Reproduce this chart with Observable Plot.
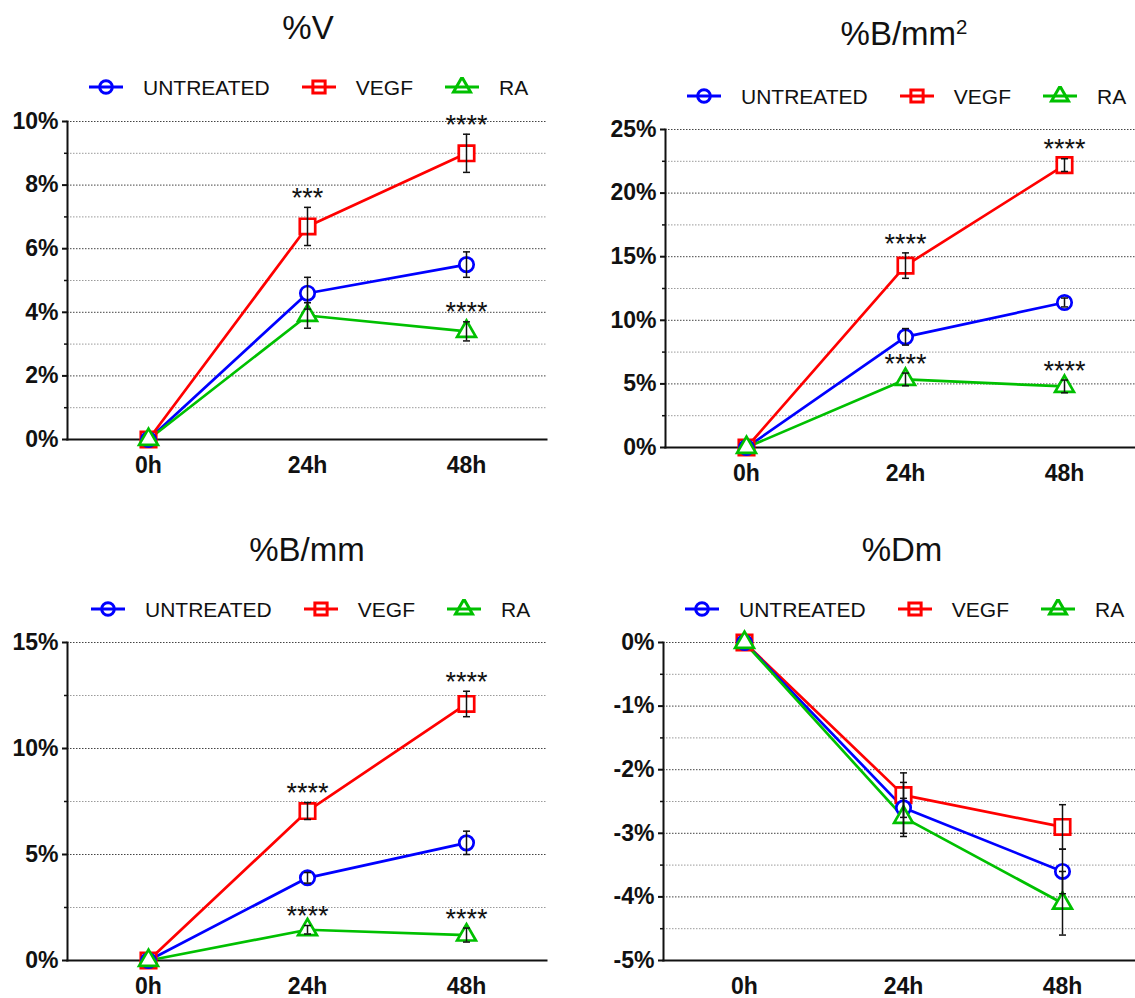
<!DOCTYPE html>
<html><head><meta charset="utf-8">
<script src="https://cdn.jsdelivr.net/npm/d3@7"></script>
<script src="https://cdn.jsdelivr.net/npm/@observablehq/plot@0.6"></script>
<style>
body{margin:0;background:#fff;}
#root{position:relative;width:1135px;height:998px;overflow:hidden;background:#fff;font-family:"Liberation Sans",Arial,sans-serif;color:#111;}
.title{position:absolute;font-size:33px;line-height:33px;white-space:nowrap;transform:translateX(-50%);}
.title sup{font-size:0.62em;line-height:0;position:relative;top:-0.55em;vertical-align:baseline;}
.legend{position:absolute;display:flex;align-items:center;height:21px;font-size:21px;line-height:21px;white-space:nowrap;}
.legend svg{margin-right:20px;display:block;}
.legend span{margin-right:32px;}
.panel{position:absolute;}
</style></head>
<body><div id="root"></div>
<script>
// ---------- data ----------
const times = ["0h", "24h", "48h"];
const groups = ["UNTREATED", "VEGF", "RA"];

// %V
const vUntreated = [0, 4.6, 5.5];
const vUntreatedSem = [0, 0.5, 0.4];
const vVegf = [0, 6.7, 9.0];
const vVegfSem = [0, 0.6, 0.6];
const vRa = [0, 3.9, 3.4];
const vRaSem = [0, 0.4, 0.3];
const vVegfSig = ["", "***", "****"];
const vRaSig = ["", "", "****"];
const vTicks = [0, 2, 4, 6, 8, 10];
const vMinor = [1, 3, 5, 7, 9];

// %B/mm2
const bUntreated = [0, 8.7, 11.4];
const bUntreatedSem = [0, 0.65, 0.35];
const bVegf = [0, 14.3, 22.2];
const bVegfSem = [0, 1.0, 0.5];
const bRa = [0, 5.35, 4.8];
const bRaSem = [0, 0.5, 0.5];
const bVegfSig = ["", "****", "****"];
const bRaSig = ["", "****", "****"];
const bTicks = [0, 5, 10, 15, 20, 25];
const bMinor = [2.5, 7.5, 12.5, 17.5, 22.5];

// %B/mm
const lUntreated = [0, 3.9, 5.55];
const lUntreatedSem = [0, 0.25, 0.55];
const lVegf = [0, 7.05, 12.1];
const lVegfSem = [0, 0.4, 0.6];
const lRa = [0, 1.45, 1.2];
const lRaSem = [0, 0.2, 0.33];
const lVegfSig = ["", "****", "****"];
const lRaSig = ["", "****", "****"];
const lTicks = [0, 5, 10, 15];
const lMinor = [2.5, 7.5, 12.5];

// %Dm
const dUntreated = [0, -2.6, -3.6];
const dUntreatedSem = [0, 0.4, 0.35];
const dVegf = [0, -2.4, -2.9];
const dVegfSem = [0, 0.35, 0.35];
const dRa = [0, -2.75, -4.1];
const dRaSem = [0, 0.3, 0.5];
const dTicks = [0, -1, -2, -3, -4, -5];
const dMinor = [-0.5, -1.5, -2.5, -3.5, -4.5];

// ---------- styles ----------
const colors = {UNTREATED: "#0000ff", VEGF: "#ff0000", RA: "#00c000"};
const symbolOf = {UNTREATED: "circle", VEGF: "square", RA: "triangle"};
const rOf = {UNTREATED: 7.2, VEGF: 8.7, RA: 7};
const drawOrder = ["VEGF", "UNTREATED", "RA"];
const capSymbol = {draw(ctx) { ctx.moveTo(-3.5, 0); ctx.lineTo(3.5, 0); }};

function rows(series) {
  const out = [];
  for (const [group, means, sems, sigs] of series) {
    means.forEach((v, i) => out.push({group, time: times[i], value: v, sem: sems[i], sig: sigs ? sigs[i] : ""}));
  }
  return out;
}

const panels = [
  {title: "%V", titleX: 308, titleTop: 11, legendLeft: 89, legendCY: 87,
   left: 0, top: 100, width: 560, height: 390, mL: 67, mR: 14, mT: 21, mB: 51, xRange: null,
   yDomain: [0, 10], ticks: vTicks, minor: vMinor,
   data: rows([["UNTREATED", vUntreated, vUntreatedSem], ["VEGF", vVegf, vVegfSem, vVegfSig], ["RA", vRa, vRaSem, vRaSig]])},
  {title: "%B/mm<sup>2</sup>", titleX: 904, titleTop: 17, legendLeft: 687, legendCY: 96,
   left: 570, top: 100, width: 565, height: 390, mL: 95, mR: 0, mT: 29, mB: 43, xRange: [95, 574],
   yDomain: [0, 25], ticks: bTicks, minor: bMinor,
   data: rows([["UNTREATED", bUntreated, bUntreatedSem], ["VEGF", bVegf, bVegfSem, bVegfSig], ["RA", bRa, bRaSem, bRaSig]])},
  {title: "%B/mm", titleX: 307, titleTop: 533, legendLeft: 91, legendCY: 609,
   left: 0, top: 600, width: 560, height: 398, mL: 67, mR: 14, mT: 42, mB: 38, xRange: null,
   yDomain: [0, 15], ticks: lTicks, minor: lMinor,
   data: rows([["UNTREATED", lUntreated, lUntreatedSem], ["VEGF", lVegf, lVegfSem, lVegfSig], ["RA", lRa, lRaSem, lRaSig]])},
  {title: "%Dm", titleX: 902, titleTop: 533, legendLeft: 685, legendCY: 609,
   left: 570, top: 600, width: 565, height: 398, mL: 93, mR: 0, mT: 42, mB: 38, xRange: [93, 572],
   yDomain: [-5, 0], ticks: dTicks, minor: dMinor,
   data: rows([["UNTREATED", dUntreated, dUntreatedSem], ["VEGF", dVegf, dVegfSem], ["RA", dRa, dRaSem]])}
];

const root = document.getElementById("root");

function makeLegend(p) {
  const div = document.createElement("div");
  div.className = "legend";
  div.style.left = p.legendLeft + "px";
  div.style.top = (p.legendCY - 10.5) + "px";
  const symType = {circle: d3.symbolCircle, square: d3.symbolSquare, triangle: d3.symbolTriangle};
  const symSize = {circle: 125, square: 150, triangle: 125};
  for (const g of groups) {
    const svg = d3.create("svg").attr("width", 34).attr("height", 20);
    svg.append("line").attr("x1", 0).attr("x2", 34).attr("y1", 10).attr("y2", 10)
      .attr("stroke", colors[g]).attr("stroke-width", 3);
    svg.append("path").attr("transform", "translate(17,10)")
      .attr("d", d3.symbol(symType[symbolOf[g]], symSize[symbolOf[g]])())
      .attr("fill", "none").attr("stroke", colors[g]).attr("stroke-width", 3);
    div.appendChild(svg.node());
    const span = document.createElement("span");
    span.textContent = g;
    div.appendChild(span);
  }
  return div;
}

for (const p of panels) {
  const t = document.createElement("div");
  t.className = "title";
  t.style.left = p.titleX + "px";
  t.style.top = p.titleTop + "px";
  t.innerHTML = p.title;
  root.appendChild(t);
  root.appendChild(makeLegend(p));

  const marks = [
    Plot.ruleY(p.minor, {stroke: "#9a9a9a", strokeWidth: 1, strokeDasharray: "1.5,1.5"}),
    Plot.ruleY(p.ticks.filter(d => d !== p.yDomain[0]), {stroke: "#444", strokeWidth: 1, strokeDasharray: "1.5,1.5"}),
    Plot.axisY(p.minor, {tickSize: 3, tickFormat: () => "", strokeWidth: 1.5, label: null}),
    Plot.axisY(p.ticks, {tickSize: 5, tickPadding: 4, tickFormat: d => `${d}%`, fontSize: 23, fontWeight: "bold", strokeWidth: 2, label: null}),
    Plot.axisX({tickSize: 0, tickPadding: 17, fontSize: 23, fontWeight: "bold", label: null}),
    Plot.frame({anchor: "left", stroke: "#111", strokeWidth: 2}),
    Plot.frame({anchor: "bottom", stroke: "#111", strokeWidth: 2})
  ];
  for (const g of drawOrder) {
    marks.push(Plot.line(p.data.filter(d => d.group === g), {x: "time", y: "value", stroke: colors[g], strokeWidth: 2.7}));
  }
  for (const g of drawOrder) {
    marks.push(Plot.dot(p.data.filter(d => d.group === g), {x: "time", y: "value", symbol: symbolOf[g], r: rOf[g], stroke: colors[g], strokeWidth: 2.7, fill: "white"}));
  }
  const eb = p.data.filter(d => d.sem > 0);
  marks.push(Plot.ruleX(eb, {x: "time", y1: d => d.value - d.sem, y2: d => d.value + d.sem, stroke: "#111", strokeWidth: 1.5}));
  marks.push(Plot.dot(eb, {x: "time", y: d => d.value + d.sem, symbol: capSymbol, r: 4, stroke: "#111", strokeWidth: 1.5}));
  marks.push(Plot.dot(eb, {x: "time", y: d => d.value - d.sem, symbol: capSymbol, r: 4, stroke: "#111", strokeWidth: 1.5}));
  marks.push(Plot.text(p.data.filter(d => d.sig), {x: "time", y: d => d.value + d.sem, text: "sig", dy: -9, fontSize: 27, fill: "#111"}));

  const xOpts = {type: "point", domain: times, padding: 0.5, label: null};
  if (p.xRange) xOpts.range = p.xRange;
  const chart = Plot.plot({
    width: p.width, height: p.height,
    marginLeft: p.mL, marginRight: p.mR, marginTop: p.mT, marginBottom: p.mB,
    x: xOpts,
    y: {domain: p.yDomain, label: null},
    style: {fontFamily: "'Liberation Sans', Arial, sans-serif", color: "#111", background: "none", overflow: "visible"},
    marks
  });
  const wrap = document.createElement("div");
  wrap.className = "panel";
  wrap.style.left = p.left + "px";
  wrap.style.top = p.top + "px";
  wrap.appendChild(chart);
  root.appendChild(wrap);
}
</script>
</body></html>
